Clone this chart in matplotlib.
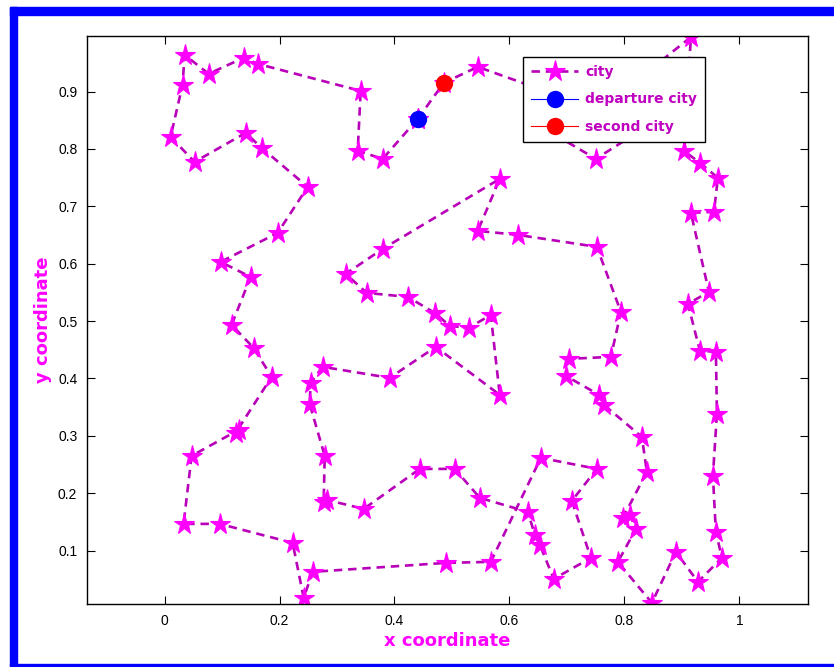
import matplotlib

matplotlib.use("Agg")

import matplotlib.pyplot as plt
from matplotlib.patches import Rectangle
import numpy as np

# Tour through the cities, in visiting order (first = departure, second = next stop)
city_x = [0.4405, 0.4857, 0.5449, 0.6616, 0.6755, 0.7503, 0.8409, 0.8270, 0.9157, 0.9036,
          0.9314, 0.9627, 0.9558, 0.9157, 0.9471, 0.9105, 0.9314, 0.9592, 0.9610, 0.9540,
          0.9592, 0.9697, 0.9279, 0.8896, 0.8478, 0.7887, 0.8200, 0.8096, 0.7974, 0.8391,
          0.8304, 0.7643, 0.7556, 0.6981, 0.7034, 0.7765, 0.7939, 0.7521, 0.6145, 0.5449,
          0.5832, 0.3795, 0.3151, 0.3517, 0.4231, 0.4701, 0.4962, 0.5292, 0.5675, 0.5832,
          0.4718, 0.3917, 0.2751, 0.2542, 0.2524, 0.2786, 0.2768, 0.2820, 0.3465, 0.4439,
          0.5049, 0.5484, 0.6320, 0.6442, 0.6529, 0.6772, 0.7417, 0.7086, 0.7521, 0.6546,
          0.5675, 0.4892, 0.2577, 0.2420, 0.2228, 0.0958, 0.0331, 0.0470, 0.1288, 0.1236,
          0.1863, 0.1549, 0.1166, 0.1497, 0.0975, 0.1967, 0.2490, 0.1689, 0.1410, 0.0522,
          0.0104, 0.0313, 0.0348, 0.0766, 0.1375, 0.1619, 0.3412, 0.3360, 0.3795]
city_y = [0.8525, 0.9152, 0.9431, 0.9013, 0.8270, 0.7828, 0.8403, 0.9240, 0.9950, 0.7967,
          0.7758, 0.7497, 0.6904, 0.6887, 0.5510, 0.5301, 0.4482, 0.4465, 0.3384, 0.2303,
          0.1327, 0.0874, 0.0455, 0.0978, 0.0089, 0.0803, 0.1378, 0.1622, 0.1570, 0.2372,
          0.2982, 0.3540, 0.3716, 0.4046, 0.4342, 0.4377, 0.5161, 0.6294, 0.6503, 0.6573,
          0.7479, 0.6259, 0.5823, 0.5492, 0.5422, 0.5143, 0.4917, 0.4882, 0.5108, 0.3714,
          0.4551, 0.4011, 0.4203, 0.3924, 0.3558, 0.2652, 0.1849, 0.1884, 0.1727, 0.2424,
          0.2424, 0.1919, 0.1675, 0.1274, 0.1100, 0.0507, 0.0873, 0.1867, 0.2425, 0.2616,
          0.0804, 0.0786, 0.0630, 0.0176, 0.1135, 0.1466, 0.1466, 0.2651, 0.3104, 0.3052,
          0.4028, 0.4533, 0.4934, 0.5770, 0.6032, 0.6537, 0.7339, 0.8019, 0.8280, 0.7775,
          0.8211, 0.9118, 0.9641, 0.9310, 0.9589, 0.9484, 0.9012, 0.7967, 0.7828]

x_ticks = [0, 0.2, 0.4, 0.6, 0.8, 1]
x_tick_labels = ["0", "0.2", "0.4", "0.6", "0.8", "1"]
y_ticks = [0.1, 0.2, 0.3, 0.4, 0.5, 0.6, 0.7, 0.8, 0.9]
y_tick_labels = ["0.1", "0.2", "0.3", "0.4", "0.5", "0.6", "0.7", "0.8", "0.9"]

LINE_MAGENTA = "#B800B8"
STAR_MAGENTA = "#FF00FF"

fig = plt.figure(figsize=(8.34, 6.67), dpi=100)
ax = fig.add_axes([0.1043, 0.0945, 0.8649, 0.8516])

# closed tour: return to the departure city at the end
tour_x = np.append(city_x, city_x[0])
tour_y = np.append(city_y, city_y[0])
ax.plot(tour_x, tour_y, linestyle=(0, (3.2, 2.2)), lw=1.9, color=LINE_MAGENTA,
        marker="*", markersize=15.5, markerfacecolor=STAR_MAGENTA,
        markeredgecolor=STAR_MAGENTA, markeredgewidth=0.8, label="city")
ax.plot(city_x[0], city_y[0], "o-", color="#0000FF", lw=0.8, markersize=11.5,
        label="departure city", zorder=4)
ax.plot(city_x[1], city_y[1], "o-", color="#FF0000", lw=0.8, markersize=11.5,
        label="second city", zorder=4)

ax.set_xlim(-0.135, 1.12)
ax.set_ylim(0.007, 0.997)
ax.set_xticks(x_ticks)
ax.set_xticklabels(x_tick_labels)
ax.set_yticks(y_ticks)
ax.set_yticklabels(y_tick_labels)
ax.tick_params(direction="in", length=6, width=0.8, top=True, right=True,
               labelsize=10, pad=7)
for lbl in ax.get_xticklabels() + ax.get_yticklabels():
    lbl.set_family("Liberation Sans")
for sp in ax.spines.values():
    sp.set_linewidth(1.0)

ax.set_xlabel("x coordinate", color=STAR_MAGENTA, fontsize=13,
              fontweight="bold", labelpad=3)
ax.set_ylabel("y coordinate", color=STAR_MAGENTA, fontsize=13,
              fontweight="bold", labelpad=4)

leg = ax.legend(loc="upper left", bbox_to_anchor=(0.604, 0.963),
                borderaxespad=0, fancybox=False, framealpha=1, edgecolor="black",
                handlelength=3.4, handletextpad=0.5, borderpad=0.6,
                labelspacing=0.95, prop={"weight": "bold", "size": 10})
leg.get_frame().set_linewidth(1.0)
for txt in leg.get_texts():
    txt.set_color("#C000C0")

# blue frame around the figure
fig.patches.append(Rectangle((10 / 834, 0), 7 / 834, 660 / 667, transform=fig.transFigure,
                             color="#0000FF", zorder=0))
fig.patches.append(Rectangle((10 / 834, 652 / 667), 824 / 834, 8 / 667,
                             transform=fig.transFigure, color="#0000FF", zorder=0))
fig.patches.append(Rectangle((10 / 834, 1 / 667), 824 / 834, 2 / 667,
                             transform=fig.transFigure, color="#0000FF", zorder=0))

fig.savefig("out.png", dpi=100)
plt.close(fig)
